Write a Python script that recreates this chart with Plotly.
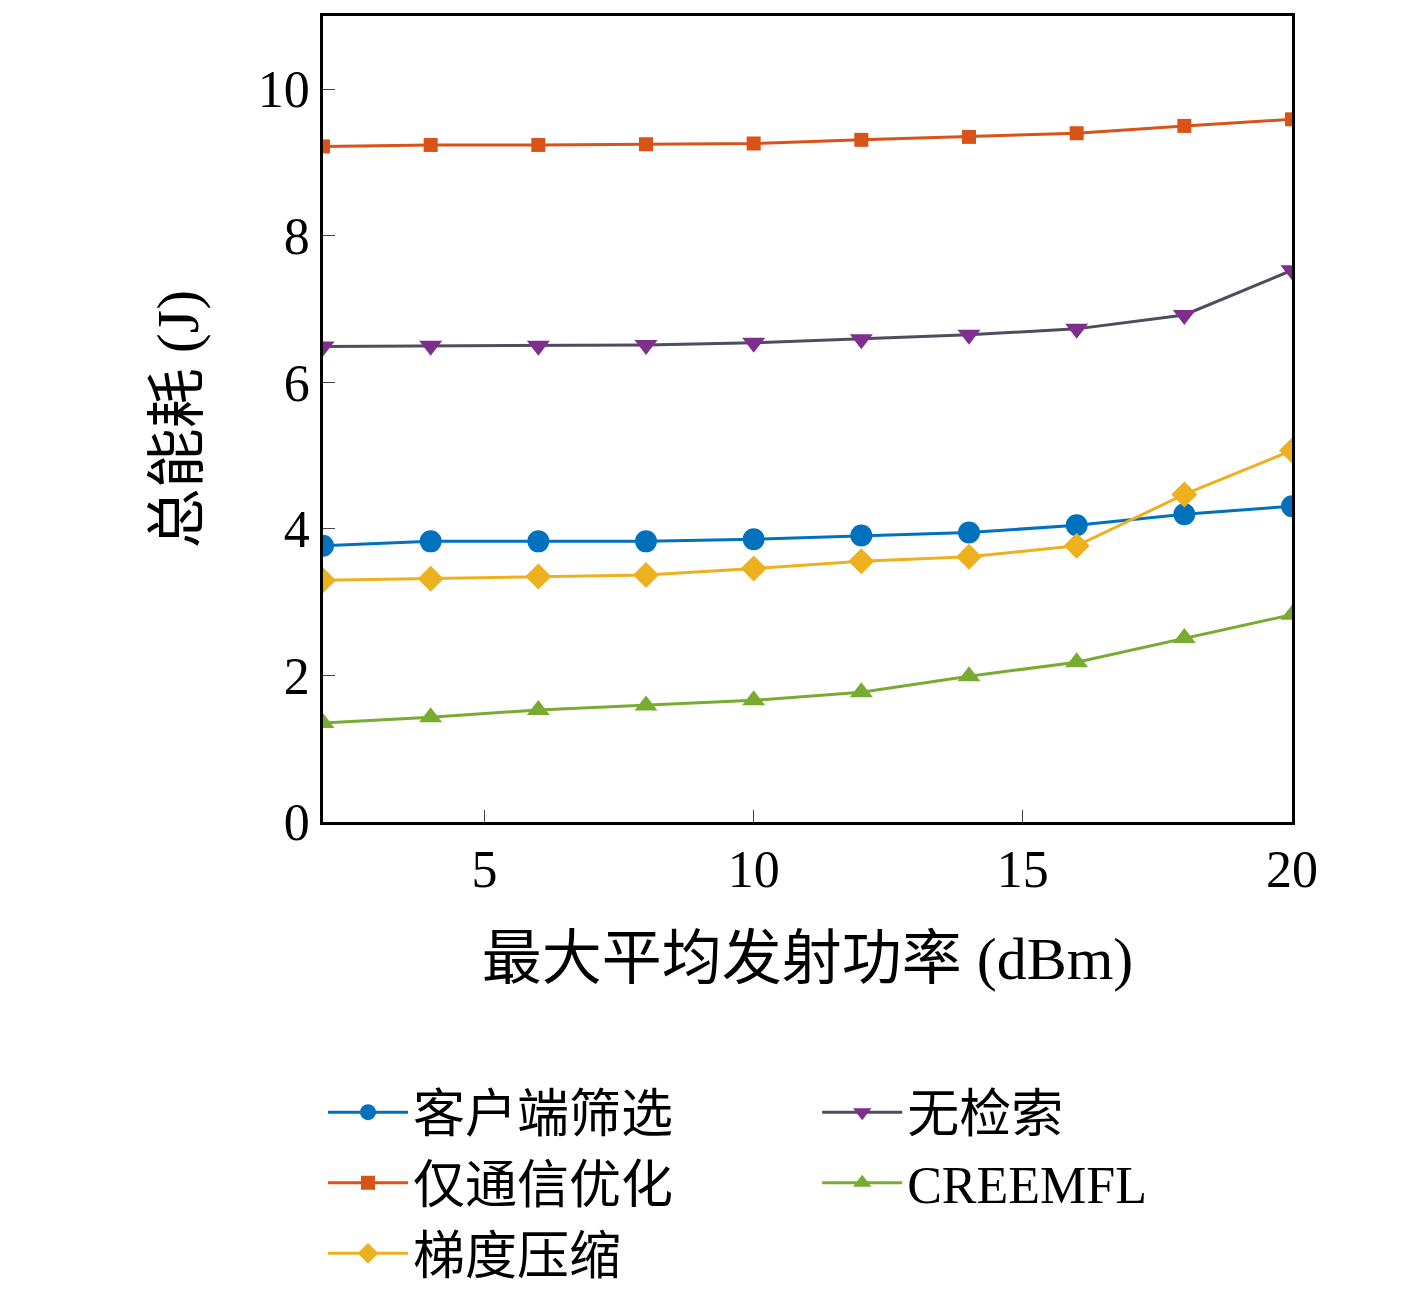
import plotly.graph_objects as go

x = [2, 4, 6, 8, 10, 12, 14, 16, 18, 20]
client = [3.77, 3.83, 3.83, 3.83, 3.86, 3.91, 3.95, 4.05, 4.20, 4.31]
commonly = [9.22, 9.24, 9.24, 9.25, 9.26, 9.31, 9.35, 9.40, 9.50, 9.59]
noretr = [6.49, 6.50, 6.50, 6.51, 6.54, 6.59, 6.65, 6.73, 6.92, 7.53]
gradc = [3.30, 3.32, 3.35, 3.37, 3.46, 3.56, 3.62, 3.77, 4.47, 5.07]
creem = [1.35, 1.43, 1.53, 1.59, 1.66, 1.77, 1.99, 2.18, 2.51, 2.83]

series = [
    ("客户端筛选", client, "#0072BD", "#0072BD", "circle", 22, "legend"),
    ("仅通信优化", commonly, "#D95319", "#D95319", "square", 14, "legend"),
    ("梯度压缩", gradc, "#EDB120", "#EDB120", "diamond", 20, "legend"),
    ("无检索", noretr, "#4d4d5e", "#7E2F8E", "triangle-down", 20, "legend2"),
    ("CREEMFL", creem, "#77AC30", "#77AC30", "triangle-up", 20, "legend2"),
]

fig = go.Figure()
for name, y, lc, mc, sym, sz, lg in series:
    fig.add_trace(go.Scatter(x=x, y=y, name=name, mode="lines+markers", legend=lg,
                             line=dict(color=lc, width=3),
                             marker=dict(color=mc, symbol=sym, size=sz)))

font = "Liberation Serif, Noto Sans CJK SC"
fig.update_layout(
    width=1417, height=1311, plot_bgcolor="white", paper_bgcolor="white",
    margin=dict(l=315, r=133, t=8, b=497, autoexpand=False),
    font=dict(family=font, size=50, color="black"),
    legend=dict(x=0.0, y=-0.31, xanchor="left", yanchor="top", font=dict(size=52),
                itemwidth=80, tracegroupgap=0, bgcolor="rgba(0,0,0,0)"),
    legend2=dict(x=0.51, y=-0.31, xanchor="left", yanchor="top", font=dict(size=52),
                 itemwidth=80, tracegroupgap=0, bgcolor="rgba(0,0,0,0)"),
    showlegend=True,
)
fig.update_xaxes(range=[2, 20], tickvals=[5, 10, 15, 20], ticks="inside", ticklen=12,
                 showline=True, linecolor="black", linewidth=2.5, mirror=True,
                 showgrid=False, zeroline=False,
                 title=dict(text="最大平均发射功率 (dBm)", standoff=40), tickfont=dict(size=52))
fig.update_yaxes(range=[0, 11], tickvals=[0, 2, 4, 6, 8, 10], ticks="inside", ticklen=12,
                 showline=True, linecolor="black", linewidth=2.5, mirror=True,
                 showgrid=False, zeroline=False,
                 title=dict(text="总能耗 (J)", standoff=40), tickfont=dict(size=52))
fig.write_html("out.html")
